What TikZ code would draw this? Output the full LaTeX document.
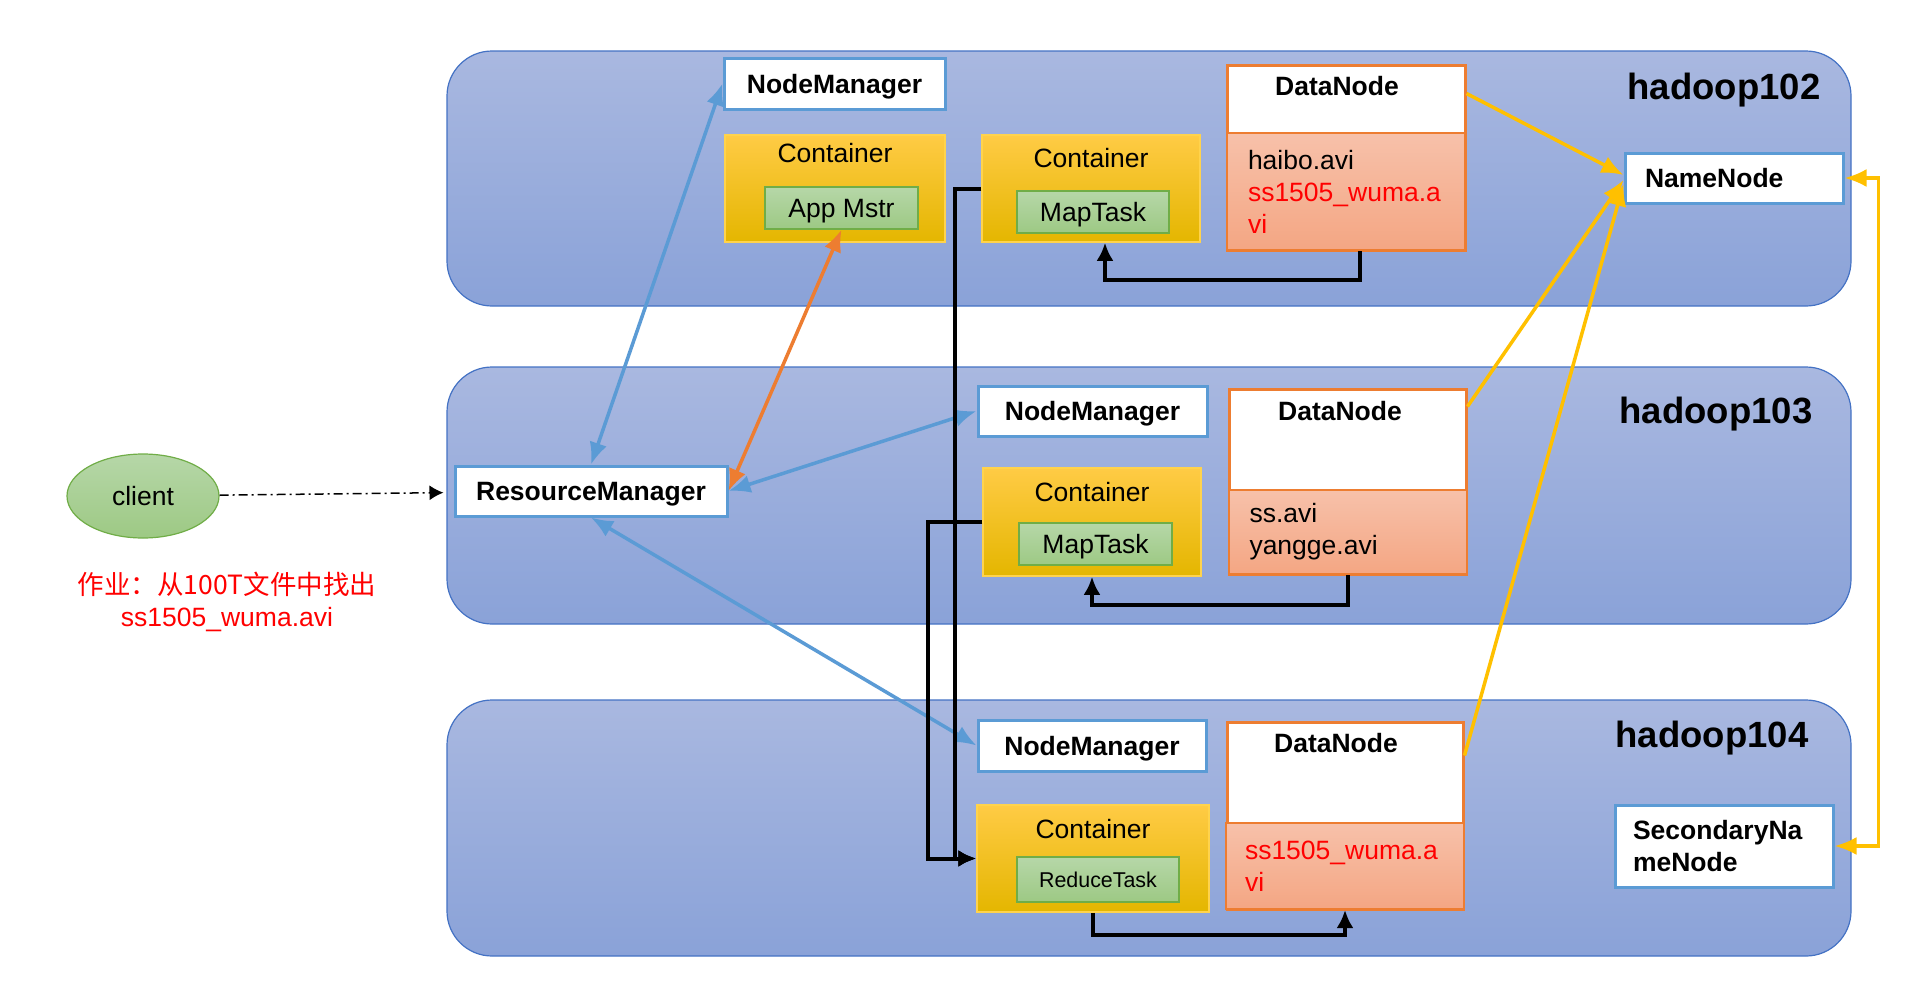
\documentclass[tikz,border=0pt]{standalone}
\usepackage{fontspec}
\setmainfont{Liberation Sans}
\newfontfamily\cjkfont{Noto Sans CJK SC}
\usetikzlibrary{shapes.geometric,arrows.meta}

\definecolor{bandtop}{HTML}{A9B8E0}
\definecolor{bandbot}{HTML}{8AA2D8}
\definecolor{bandline}{HTML}{4472C4}
\definecolor{boxblue}{HTML}{5B9BD5}
\definecolor{dnorange}{HTML}{ED7D31}
\definecolor{dntop}{HTML}{F7C1AA}
\definecolor{dnbot}{HTML}{F4A683}
\definecolor{cntop}{HTML}{FFCB45}
\definecolor{cnmid}{HTML}{FFC000}
\definecolor{cnbot}{HTML}{E4B600}
\definecolor{grtop}{HTML}{B6D7A8}
\definecolor{grbot}{HTML}{9DC984}
\definecolor{grline}{HTML}{70AD47}
\definecolor{hdfsyellow}{HTML}{FFC000}
\definecolor{alertred}{HTML}{FF0000}

\begin{document}
\begin{tikzpicture}[x=1pt,y=-1pt,
  every node/.style={font=\fontsize{26.5}{32}\selectfont, inner sep=0pt},
  oneline/.style={text height=19pt, text depth=0pt},
  band/.style={draw=bandline, line width=1.2pt, rounded corners=45pt,
    top color=bandtop, bottom color=bandbot, minimum width=1404pt},
  host/.style={font=\fontsize{36.5}{40}\selectfont\bfseries},
  daemon/.style={draw=boxblue, line width=3pt, fill=white,
    font=\fontsize{26.5}{32}\selectfont\bfseries},
  container/.style={draw=cnmid!70!white, line width=1.5pt,
    top color=cntop, middle color=cnmid, bottom color=cnbot},
  task/.style={draw=grline, line width=1.5pt, top color=grtop, bottom color=grbot, oneline},
  datanode/.style={draw=dnorange, line width=3pt, fill=white},
  dnlabel/.style={font=\fontsize{26.5}{32}\selectfont\bfseries},
  files/.style={draw=dnorange, line width=2pt, top color=dntop, bottom color=dnbot,
    align=left, inner xsep=#1, text width=238pt-2*#1},
  files/.default=21pt,
  client/.style={ellipse, draw=grline, line width=1.2pt, top color=grtop,
    bottom color=grbot, minimum width=152pt, minimum height=84pt},
  link/.style={line width=3.5pt, {Latex[length=22pt,width=18pt]}-{Latex[length=22pt,width=18pt]}},
  flow/.style={black, line width=4pt, -{Latex[length=18pt,width=17pt]}},
  report/.style={hdfsyellow, line width=3.5pt, -{Latex[length=22pt,width=18pt]}}
]
  \useasboundingbox (0,0) rectangle (1920,983);

  \foreach \n/\y/\h/\lx/\ly in {102/178.5/255/1724/90,103/495.5/257/1716/414,104/828/256/1712/738}{
    \node[band, minimum height=\h pt] (band\n) at (1149,\y) {};
    \node[host] (host\n) at (\lx,\ly) {hadoop\n};
  }

  % hadoop102
  \node[daemon, oneline, minimum width=221pt, minimum height=51pt] (nm1) at (834.5,83.5) {NodeManager};
  \node[container, minimum width=220pt, minimum height=107pt] (c1) at (835,188.5) {};
  \node (c1t) at ([yshift=-19pt]c1.north) {Container};
  \node[task, minimum width=153pt, minimum height=42pt] (am) at (841.5,208) {App Mstr};
  \node[container, minimum width=218pt, minimum height=107pt] (c2) at (1091,188.5) {};
  \node (c2t) at ([yshift=-24pt]c2.north) {Container};
  \node[task, minimum width=152pt, minimum height=42pt] (mt2) at (1093,212) {MapTask};
  \node[datanode, minimum width=238pt, minimum height=185pt] (dn2) at (1346,157.5) {};
  \node[dnlabel] (dn2t) at (1337,86) {DataNode};
  \node[files, minimum height=117pt] (dn2f) at (1346,191.5)
    {haibo.avi\\\textcolor{alertred}{ss1505\_wuma.a}\\\textcolor{alertred}{vi}};
  \node[daemon, oneline, minimum height=50pt, align=left, inner xsep=20pt, text width=178pt] (nn) at (1734,178) {NameNode};

  % hadoop103
  \node[daemon, oneline, minimum width=229pt, minimum height=50pt] (nm2) at (1092.5,411) {NodeManager};
  \node[daemon, oneline, minimum width=272pt, minimum height=50pt] (rm) at (591,491) {ResourceManager};
  \node[container, minimum width=218pt, minimum height=108pt] (c3) at (1092,522) {};
  \node (c3t) at ([yshift=-25pt]c3.north) {Container};
  \node[task, minimum width=153pt, minimum height=42pt] (mt3) at (1095.5,544) {MapTask};
  \node[datanode, minimum width=237pt, minimum height=185pt] (dn3) at (1347.5,481.5) {};
  \node[dnlabel] (dn3t) at (1340,411) {DataNode};
  \node[files, minimum height=84pt] (dn3f) at (1347.5,532) {ss.avi\\yangge.avi};

  % hadoop104
  \node[daemon, oneline, minimum width=228pt, minimum height=51pt] (nm3) at (1092,745.5) {NodeManager};
  \node[datanode, minimum width=236pt, minimum height=187pt] (dn4) at (1345,815.5) {};
  \node[dnlabel] (dn4t) at (1336,743) {DataNode};
  \node[files=19pt, minimum height=86pt, text=alertred] (dn4f) at (1345,866) {ss1505\_wuma.a\\vi};
  \node[container, minimum width=232pt, minimum height=107pt] (c4) at (1093,858.5) {};
  \node (c4t) at ([yshift=-25pt]c4.north) {Container};
  \node[task, minimum width=162pt, minimum height=45pt, text height=15.4pt,
    font=\fontsize{21.4}{26}\selectfont] (rt) at (1098,879.5) {ReduceTask};
  \node[daemon, minimum height=82pt, align=left, inner xsep=18pt, text width=182pt] (snn) at (1724,846) {SecondaryNa\\meNode};

  % client
  \node[client, oneline] (client) at (143,496) {client};
  \node[text=alertred, align=center] (job) at (227,602) {{\cjkfont 作业：从100T文件中找出}\\ss1505\_wuma.avi};

  \draw[line width=1.5pt, dash pattern=on 9pt off 4pt on 2pt off 4pt,
    -{Latex[length=14pt,width=15pt]}, shorten >=10pt] (client) -- (rm);

  \draw[link, boxblue] (rm.north) -- (nm1.west);
  \draw[link, dnorange] (rm.east) -- (am.south);
  \draw[link, boxblue] (rm.east) -- (nm2.west);
  \draw[link, boxblue] (rm.south) -- (nm3.west);

  \draw[flow] ([xshift=14pt]dn2f.south) -- ++(0,29) -| ([xshift=14pt]c2.south);
  \draw[flow] (dn3f.south) -- ++(0,30) -| (c3.south);
  \draw[flow] (c4.south) -- ++(0,22) -| (dn4f.south);
  \draw[flow] (c2.west) -- ++(-26,0) |- (c4.west);
  \draw[flow] (c3.west) -- ++(-54,0) |- (c4.west);

  \draw[report] ([yshift=-30pt]dn2.north east) -- ([yshift=3pt]nn.west);
  \draw[report] ([yshift=-19pt]dn3.north east) -- ([yshift=-2pt]nn.west);
  \draw[report] ([yshift=-35pt]dn4.north east) -- ([yshift=-6pt]nn.west);
  \draw[report, {Latex[length=22pt,width=18pt]}-{Latex[length=22pt,width=18pt]}] (nn.east) -- ++(34,0) |- (snn.east);
\end{tikzpicture}
\end{document}
